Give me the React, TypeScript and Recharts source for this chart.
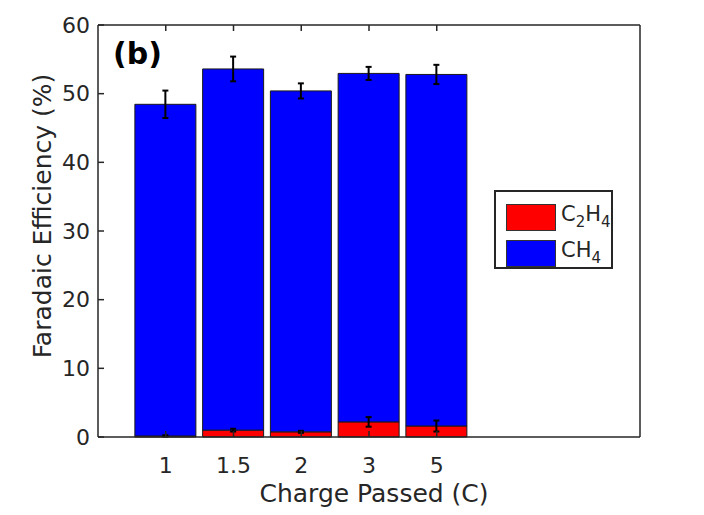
import { BarChart, Bar, XAxis, YAxis, ErrorBar, Legend, Label } from 'recharts'

const charges = ['1', '1.5', '2', '3', '5']
const slots = [1, 2, 3, 4, 5]
const c2h4 = [0.15, 1.0, 0.75, 2.2, 1.6]
const c2h4Err = [0.1, 0.2, 0.15, 0.7, 0.8]
const ch4 = [48.3, 52.6, 49.65, 50.75, 51.2]
const ch4Err = [2.0, 1.8, 1.1, 0.95, 1.4]
const yTicks = [0, 10, 20, 30, 40, 50, 60]

const data = slots.map((x, i) => ({
  x,
  c2h4: c2h4[i],
  c2h4Err: c2h4Err[i],
  ch4: ch4[i],
  ch4Err: ch4Err[i],
}))

const ink = '#262626'
const font = 'DejaVu Sans, sans-serif'
const tickStyle = { fill: ink, fontSize: 22, fontFamily: font }
const line = { stroke: ink, strokeWidth: 1.5 }

function FeLegend() {
  const sub = { fontSize: 15, verticalAlign: -6 }
  const rows = [
    { color: '#ff0000', name: <>C<span style={sub}>2</span>H<span style={sub}>4</span></> },
    { color: '#0000ff', name: <>CH<span style={sub}>4</span></> },
  ]
  return (
    <div
      style={{
        width: 119,
        height: 79,
        boxSizing: 'border-box',
        border: `2px solid ${ink}`,
        background: '#fff',
        padding: '7px 0 0 10px',
        fontFamily: font,
        fontSize: 21,
        color: ink,
      }}
    >
      {rows.map((r, i) => (
        <div key={i} style={{ display: 'flex', alignItems: 'center', height: 36 }}>
          <div style={{ width: 50, height: 27, boxSizing: 'border-box', background: r.color, border: '1px solid #333' }} />
          <span style={{ marginLeft: 5, lineHeight: 1 }}>{r.name}</span>
        </div>
      ))}
    </div>
  )
}

export default function App() {
  return (
    <div style={{ position: 'absolute', left: 0, top: 0, width: 704, height: 515, background: '#fff' }}>
      <BarChart
        width={704}
        height={515}
        data={data}
        margin={{ top: 24, right: 63, bottom: 0, left: 0 }}
      >
        <XAxis
          dataKey="x"
          type="number"
          domain={[0, 8]}
          ticks={slots}
          tickFormatter={(v) => charges[slots.indexOf(v)] ?? ''}
          height={78}
          tick={tickStyle}
          tickSize={-6}
          tickMargin={26}
          axisLine={line}
          tickLine={line}
        >
          <Label
            content={() => (
              <text x={374} y={502} textAnchor="middle" fill={ink} fontSize={25} fontFamily={font}>
                Charge Passed (C)
              </text>
            )}
          />
        </XAxis>
        <XAxis
          xAxisId="top"
          orientation="top"
          dataKey="x"
          type="number"
          domain={[0, 8]}
          ticks={slots}
          tickFormatter={() => ''}
          height={1}
          tickSize={-6}
          axisLine={line}
          tickLine={line}
        />
        <YAxis
          type="number"
          domain={[0, 60]}
          ticks={yTicks}
          width={98}
          tick={tickStyle}
          tickSize={-6}
          tickMargin={14}
          axisLine={line}
          tickLine={line}
        >
          <Label
            content={() => (
              <text
                x={42}
                y={216}
                transform="rotate(-90 42 216)"
                textAnchor="middle"
                dominantBaseline="central"
                fill={ink}
                fontSize={25}
                fontFamily={font}
              >
                Faradaic Efficiency (%)
              </text>
            )}
          />
        </YAxis>
        <YAxis
          yAxisId="right"
          orientation="right"
          type="number"
          domain={[0, 60]}
          ticks={yTicks}
          width={1}
          tickFormatter={() => ''}
          tickSize={-6}
          axisLine={line}
          tickLine={line}
        />
        <Legend
          layout="horizontal"
          align="center"
          verticalAlign="middle"
          wrapperStyle={{ position: 'absolute', left: 494, top: 190, width: 119, height: 79 }}
          content={() => <FeLegend />}
        />
        <Bar dataKey="c2h4" stackId="fe" fill="#ff0000" stroke="#1a1a1a" strokeWidth={1} barSize={61} isAnimationActive={false}>
          <ErrorBar dataKey="c2h4Err" direction="y" width={3} stroke="#000" strokeWidth={2} />
        </Bar>
        <Bar dataKey="ch4" stackId="fe" fill="#0000ff" stroke="#1a1a1a" strokeWidth={1} barSize={61} isAnimationActive={false}>
          <ErrorBar dataKey="ch4Err" direction="y" width={3} stroke="#000" strokeWidth={2} />
        </Bar>
      </BarChart>
      <div
        style={{
          position: 'absolute',
          left: 113,
          top: 36,
          fontFamily: font,
          fontWeight: 'bold',
          fontSize: 30,
          color: '#000',
          lineHeight: 1.2,
        }}
      >
        (b)
      </div>
    </div>
  )
}
